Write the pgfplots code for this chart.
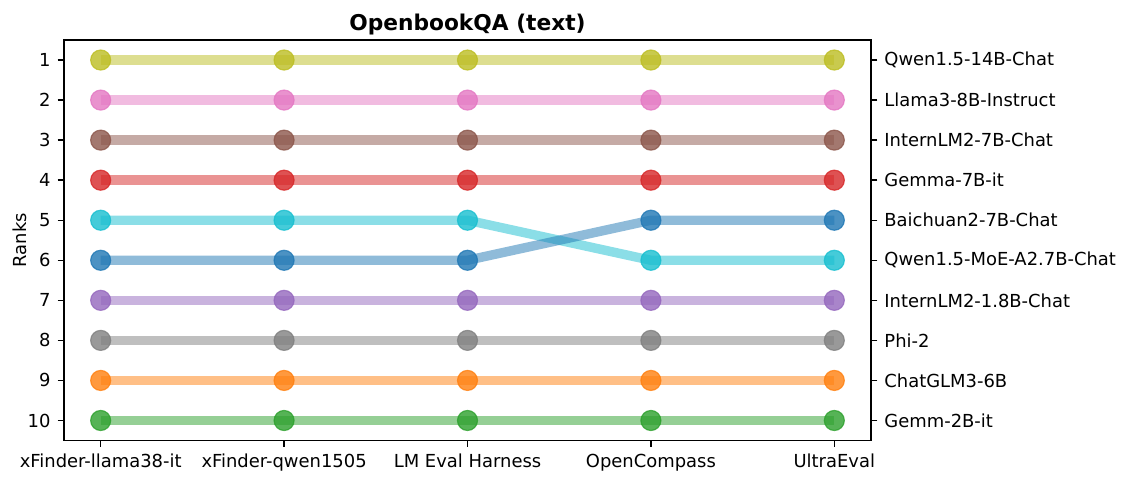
\documentclass[border=0pt]{standalone}
\usepackage{fontspec}
\setmainfont{DejaVu Sans}
\usepackage{pgfplots}
\pgfplotsset{compat=1.18}
\definecolor{cOlive}{HTML}{BCBD22}
\definecolor{cPink}{HTML}{E377C2}
\definecolor{cBrown}{HTML}{8C564B}
\definecolor{cRed}{HTML}{D62728}
\definecolor{cCyan}{HTML}{17BECF}
\definecolor{cBlue}{HTML}{1F77B4}
\definecolor{cPurple}{HTML}{9467BD}
\definecolor{cGray}{HTML}{7F7F7F}
\definecolor{cOrange}{HTML}{FF7F0E}
\definecolor{cGreen}{HTML}{2CA02C}
\pgfplotsset{
  rk/.style={line width=4.7bp, draw=#1, draw opacity=0.5, mark=*, mark size=5bp,
    mark options={draw=#1, fill=#1, line width=0.6bp, draw opacity=0.8, fill opacity=0.8}},
  common/.style={scale only axis, width=403.5bp, height=200.25bp,
    xmin=-0.2, xmax=4.2, ymin=0.5, ymax=10.5, y dir=reverse,
    tick align=outside, major tick length=3.2bp,
    every tick/.style={black, line width=0.7bp},
    axis line style={line width=0.7bp},
    tick label style={font=\fontsize{9}{11}\selectfont},
    label style={font=\fontsize{9}{11}\selectfont},
    /pgf/number format/assume math mode=true}
}
\begin{document}
\begin{tikzpicture}
\path[use as bounding box] (-32bp,-21.75bp) rectangle (533bp,220.25bp);
\begin{axis}[common,
  xtick={0,1,2,3,4},
  xticklabels={xFinder-llama38-it, xFinder-qwen1505, LM Eval Harness, OpenCompass, UltraEval},
  ytick={1,2,3,4,5,6,7,8,9,10},
  xtick pos=bottom, ytick pos=left,
  ylabel={Ranks},
  ylabel style={at={(axis description cs:-0.0545,0.5)}, anchor=center},
  every axis title shift=0pt,
  title={\textbf{OpenbookQA (text)}},
  title style={font=\fontsize{10.9}{12}\selectfont, at={(axis description cs:0.5,1)}, anchor=base, yshift=5bp, inner sep=0pt},
]
\addplot[rk=cOlive] coordinates {(0,1) (1,1) (2,1) (3,1) (4,1)};
\addplot[rk=cPink] coordinates {(0,2) (1,2) (2,2) (3,2) (4,2)};
\addplot[rk=cBrown] coordinates {(0,3) (1,3) (2,3) (3,3) (4,3)};
\addplot[rk=cRed] coordinates {(0,4) (1,4) (2,4) (3,4) (4,4)};
\addplot[rk=cCyan] coordinates {(0,5) (1,5) (2,5) (3,6) (4,6)};
\addplot[rk=cBlue] coordinates {(0,6) (1,6) (2,6) (3,5) (4,5)};
\addplot[rk=cPurple] coordinates {(0,7) (1,7) (2,7) (3,7) (4,7)};
\addplot[rk=cGray] coordinates {(0,8) (1,8) (2,8) (3,8) (4,8)};
\addplot[rk=cOrange] coordinates {(0,9) (1,9) (2,9) (3,9) (4,9)};
\addplot[rk=cGreen] coordinates {(0,10) (1,10) (2,10) (3,10) (4,10)};
\end{axis}
\begin{axis}[common,
  hide x axis, axis y line*=right,
  ytick={1,2,3,4,5,6,7,8,9,10},
  yticklabels={Qwen1.5-14B-Chat, Llama3-8B-Instruct, InternLM2-7B-Chat, Gemma-7B-it, Baichuan2-7B-Chat, Qwen1.5-MoE-A2.7B-Chat, InternLM2-1.8B-Chat, Phi-2, ChatGLM3-6B, Gemm-2B-it},
  yticklabel style={anchor=west},
]
\addplot[draw=none] coordinates {(0,1)};
\end{axis}
\end{tikzpicture}
\end{document}
